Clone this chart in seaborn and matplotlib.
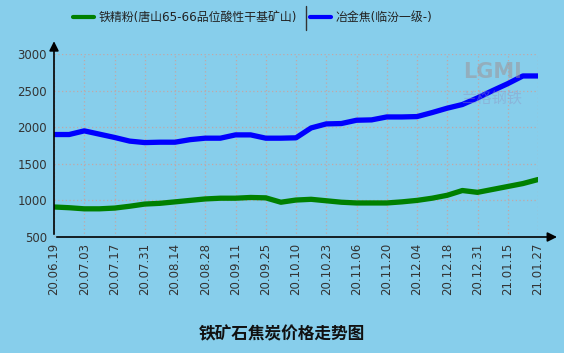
import numpy as np
import pandas as pd
import matplotlib
matplotlib.use("Agg")
import matplotlib.pyplot as plt
import seaborn as sns
from matplotlib.lines import Line2D

# tick labels (one data point every half tick interval)
tick_labels = ["20.06.19", "20.07.03", "20.07.17", "20.07.31", "20.08.14", "20.08.28",
               "20.09.11", "20.09.25", "20.10.10", "20.10.23", "20.11.06", "20.11.20",
               "20.12.04", "20.12.18", "20.12.31", "21.01.15", "21.01.27"]

iron_ore = [910, 900, 885, 885, 895, 920, 950, 960, 980, 1000, 1020, 1030, 1030, 1040, 1035, 975, 1005,
            1015, 995, 975, 965, 965, 965, 980, 1000, 1030, 1070, 1135, 1110, 1150, 1190, 1230, 1285]
coke = [1900, 1900, 1950, 1905, 1860, 1810, 1790, 1795, 1795, 1830, 1850, 1850, 1895, 1895, 1850, 1850, 1855,
        1990, 2045, 2050, 2095, 2100, 2140, 2140, 2145, 2200, 2260, 2310, 2400, 2500, 2595, 2700, 2700]

name_ore = "铁精粉(唐山65-66品位酸性干基矿山)"
name_coke = "冶金焦(临汾一级-)"
title = "铁矿石焦炭价格走势图"

df = pd.DataFrame({"x": np.arange(len(iron_ore)), name_ore: iron_ore, name_coke: coke})
long_df = df.melt(id_vars="x", var_name="series", value_name="price")

sns.set_style("white")
plt.rcParams["font.family"] = ["DejaVu Sans", "Noto Sans CJK SC"]
bg = "#87CEEB"
W, H = 564, 353

fig = plt.figure(figsize=(5.64, 3.53), dpi=100, facecolor=bg)
ax = fig.add_axes([54 / W, 1 - 237 / H, (538 - 54) / W, (237 - 54) / H])
ax.set_facecolor(bg)

sns.lineplot(data=long_df, x="x", y="price", hue="series",
             palette={name_ore: "#008000", name_coke: "#0000FF"},
             linewidth=3.8, ax=ax, legend=False)
for ln in ax.get_lines():
    ln.set_solid_joinstyle("round")
    ln.set_solid_capstyle("round")

ax.set_xlim(0, len(iron_ore) - 1)
ax.set_ylim(500, 3000)
ax.set_xticks(np.arange(0, len(iron_ore), 2))
ax.set_xticklabels(tick_labels, rotation=90, fontsize=8.5, color="#333333")
ax.set_yticks(range(500, 3001, 500))
ax.tick_params(axis="y", labelsize=8.5, labelcolor="#333333", length=4, width=1, color="#333333", direction="out", pad=1)
ax.tick_params(axis="x", length=4, width=1, color="#333333", direction="in", pad=4)
ax.set_xlabel("")
ax.set_ylabel("")
ax.grid(True, color="#C0A8A8", linestyle=(0, (1, 2)), linewidth=0.9)

for s in ax.spines.values():
    s.set_visible(False)

# axis lines with arrow heads
ax.annotate("", xy=(1.045, 0), xytext=(0, 0), xycoords="axes fraction",
            arrowprops=dict(arrowstyle="-|>", color="black", lw=1.2, mutation_scale=14))
ax.annotate("", xy=(0, 1.085), xytext=(0, 0), xycoords="axes fraction",
            arrowprops=dict(arrowstyle="-|>", color="black", lw=1.2, mutation_scale=14))

# faint watermark
ax.text(0.905, 0.9, "LGMI", transform=ax.transAxes, fontsize=15, fontweight="bold",
        color="#A09090", alpha=0.5, ha="center", va="center")
ax.text(0.905, 0.76, "兰格钢铁", transform=ax.transAxes, fontsize=11, fontfamily="Noto Sans CJK SC",
        color="#9090C0", alpha=0.4, ha="center", va="center")

# legend drawn by hand, with a separator between the entries
ly = 1 - 17 / H
fig.add_artist(Line2D([73 / W, 94 / W], [ly, ly], color="#008000", lw=3))
fig.text(99 / W, ly, name_ore, ha="left", va="center", fontsize=8.6, color="#222222")
fig.add_artist(Line2D([306 / W, 306 / W], [1 - 6 / H, 1 - 30 / H], color="#333333", lw=1))
fig.add_artist(Line2D([310 / W, 331 / W], [ly, ly], color="#0000FF", lw=3))
fig.text(336 / W, ly, name_coke, ha="left", va="center", fontsize=8.6, color="#222222")

fig.text(0.5, 1 - 334 / H, title, ha="center", va="center", fontsize=12, fontweight="bold",
         fontfamily="Noto Sans CJK SC", color="#111111")

fig.savefig("out.png", dpi=100, facecolor=bg)
